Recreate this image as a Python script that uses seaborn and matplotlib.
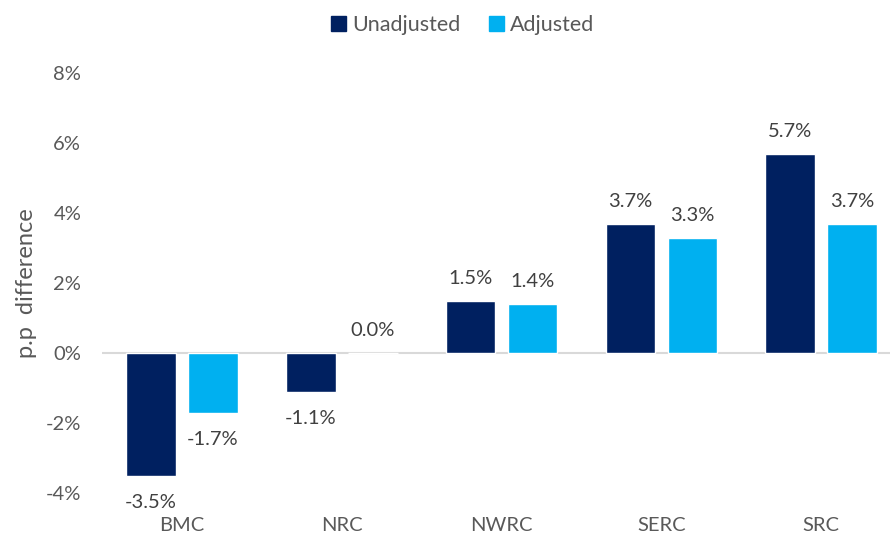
import pandas as pd
import matplotlib
matplotlib.use("Agg")
import matplotlib.pyplot as plt
import seaborn as sns
from matplotlib.patches import Patch
from matplotlib.ticker import FuncFormatter

# 数据
regions = ["BMC", "NRC", "NWRC", "SERC", "SRC"]
unadjusted = [-3.5, -1.1, 1.5, 3.7, 5.7]
adjusted = [-1.7, 0.0, 1.4, 3.3, 3.7]
series_names = ["Unadjusted", "Adjusted"]
colors = ["#002060", "#00B0F0"]

df = pd.DataFrame({
    "region": regions * 2,
    "series": [series_names[0]] * len(regions) + [series_names[1]] * len(regions),
    "value": unadjusted + adjusted,
})

sns.set_style("white")
plt.rcParams["font.family"] = ["Lato", "DejaVu Sans"]
text_col = "#595959"

fig = plt.figure(figsize=(8.9, 5.35), dpi=100)
ax = fig.add_axes([0.1146, 0.0785, 0.8978, 0.785])

sns.barplot(data=df, x="region", y="value", hue="series", order=regions,
            hue_order=series_names, palette=colors, width=0.776, gap=0.2,
            saturation=1, ax=ax, legend=False)

ax.set_xlim(-0.5, 4.5)
ax.set_ylim(-4, 8)
ax.set_yticks(range(-4, 9, 2))
ax.yaxis.set_major_formatter(FuncFormatter(lambda v, p: f"{v:.0f}%"))
ax.axhline(0, color="#D9D9D9", lw=1.5, zorder=0)
for s in ax.spines.values():
    s.set_visible(False)
ax.tick_params(axis="y", length=0, labelsize=14.5, labelcolor=text_col, pad=15)
ax.tick_params(axis="x", length=0, labelsize=14.5, labelcolor=text_col, pad=17)
ax.set_xlabel("")
ax.set_ylabel("p.p  difference", fontsize=17, color=text_col, labelpad=6)

# 数据标签
for cont in ax.containers:
    for bar in cont:
        h = bar.get_height()
        x = bar.get_x() + bar.get_width() / 2
        off = 10 if h >= 0 else -13
        ax.annotate(f"{h:.1f}%", (x, h), xytext=(0, off), textcoords="offset points",
                    ha="center", va="bottom" if h >= 0 else "top",
                    fontsize=14.5, color="#404040", annotation_clip=False)

handles = [Patch(color=c, label=n) for c, n in zip(colors, series_names)]
fig.legend(handles=handles, loc="center", bbox_to_anchor=(0.52, 0.953), ncol=2,
           frameon=False, fontsize=15.5, labelcolor=text_col, handlelength=0.7,
           handleheight=0.7, handletextpad=0.3, columnspacing=1.3)

fig.savefig("out.png", dpi=100)
